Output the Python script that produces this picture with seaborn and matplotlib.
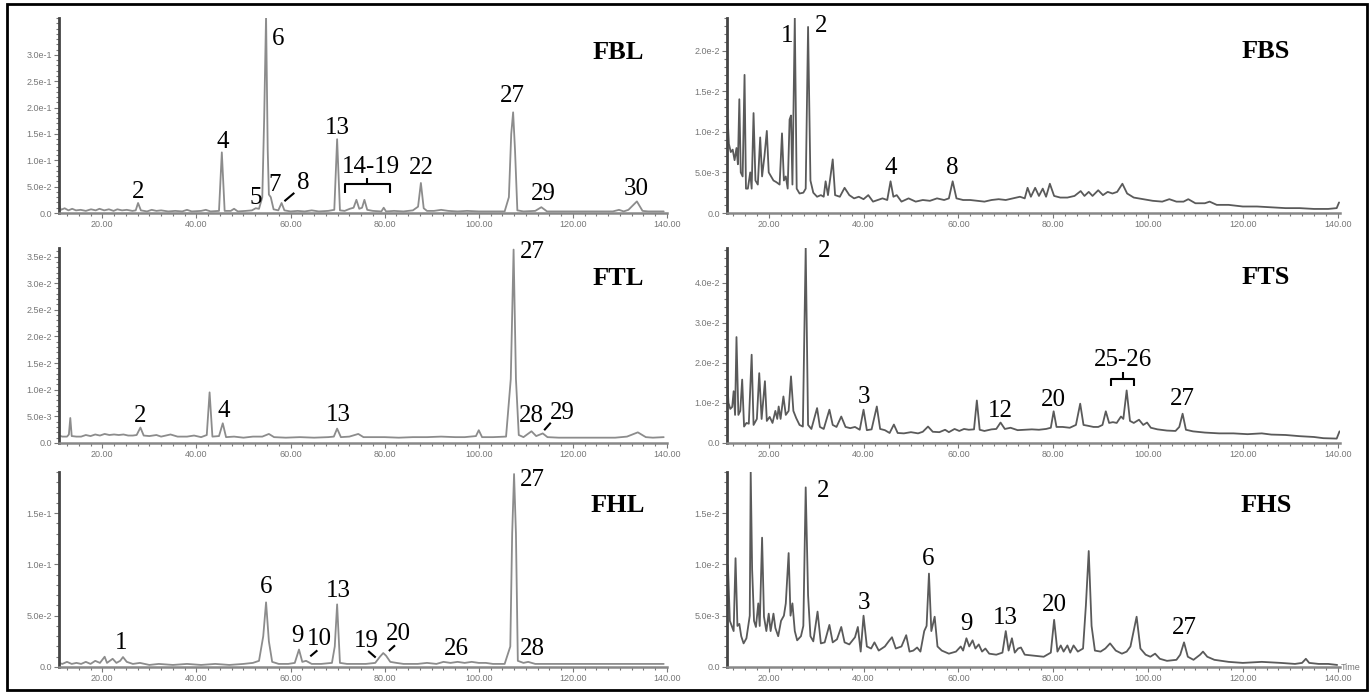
"""
GC-MS total ion chromatograms of six fractions (leaf / stem)
"""

import matplotlib
matplotlib.use("Agg")
import matplotlib.pyplot as plt
from matplotlib.patches import Rectangle
from matplotlib.ticker import FixedLocator, MultipleLocator, AutoMinorLocator, FuncFormatter
import pandas as pd
import seaborn as sns

# ---- traces: (retention time, abundance) ----
fbl = [(10.8, .016), (11.2, .006), (12.0, .009), (12.8, .005), (13.6, .008), (14.4, .005), (15.4, .006),
       (16.5, .004), (17.6, .007), (18.6, .005), (19.4, .008), (20.4, .005), (21.4, .007), (22.4, .004),
       (23.2, .007), (24.2, .005), (25.2, .006), (26.4, .004), (27.1, .005), (27.6, .019), (28.2, .005),
       (29.5, .003), (30.5, .006), (31.5, .004), (32.5, .005), (34, .003), (35.5, .004), (37, .003),
       (38, .006), (39, .003), (41, .004), (42, .006), (43, .003), (44.8, .004), (45.4, .115), (46.0, .004),
       (47.3, .004), (48.0, .008), (48.8, .003), (50.5, .004), (51.8, .005), (52.6, .009), (53.3, .008),
       (54.0, .03), (54.4, .18), (54.8, .375), (55.15, .12), (55.4, .035), (55.8, .03), (56.4, .007),
       (57.4, .005), (58.1, .019), (58.7, .005), (60, .003), (61.5, .004), (63, .003), (64.5, .005),
       (66, .003), (68, .004), (69.3, .006), (69.9, .14), (70.5, .005), (71.5, .004), (72.6, .008),
       (73.4, .01), (74.0, .025), (74.6, .008), (75.2, .01), (75.7, .025), (76.3, .006), (77.5, .004),
       (79.3, .003), (79.8, .01), (80.3, .003), (82, .004), (84, .003), (86, .005), (87.1, .012),
       (87.7, .057), (88.3, .009), (89, .004), (90.5, .004), (92, .006), (93.5, .004), (95.5, .003),
       (97.5, .004), (100, .003), (103, .003), (105.5, .003), (106.4, .03), (106.9, .15), (107.3, .191),
       (107.7, .12), (108.2, .005), (109.5, .003), (112, .004), (113.3, .011), (114.5, .003), (117, .003),
       (121, .003), (125, .003), (128.5, .003), (129.8, .006), (130.8, .003), (131.8, .006), (133.6, .022),
       (134.8, .004), (136, .003), (139.3, .003)]

ftl = [(10.8, .0014), (11.5, .0012), (12.5, .0012), (12.9, .0016), (13.2, .0047), (13.5, .0013),
       (14.5, .0012), (15.5, .0012), (16.5, .0015), (17.5, .0013), (18.5, .0016), (19.5, .0014),
       (20.5, .0017), (21.5, .0015), (22.5, .0016), (23.5, .0015), (24.5, .0016), (25.5, .0014),
       (26.5, .0014), (27.3, .0015), (28.1, .0029), (28.8, .0014), (30, .0013), (31.5, .0015),
       (32.5, .0012), (34.5, .0016), (36, .0012), (38, .0012), (39.5, .0014), (41, .0011), (42.2, .0015),
       (42.8, .0095), (43.4, .0012), (44.8, .0013), (45.6, .0037), (46.3, .0011), (48, .0012), (50, .0010),
       (52, .0012), (54, .0012), (55.4, .0017), (56.5, .0011), (59, .0010), (62, .0011), (65, .0010),
       (68, .0011), (69.2, .0012), (69.9, .0027), (70.7, .0011), (72.5, .0012), (74.4, .0017),
       (75.5, .0011), (78, .0011), (80, .0011), (83, .0010), (86, .0011), (89, .0011), (92, .0012),
       (95, .0011), (97, .0011), (99.4, .0013), (100.0, .0024), (100.7, .0011), (103, .0011),
       (105.8, .0012), (106.8, .012), (107.4, .0363), (107.9, .012), (108.5, .0015), (109.5, .0011),
       (111.2, .0022), (112.2, .0013), (113.6, .0018), (114.6, .0011), (117, .0010), (121, .0010),
       (125, .0010), (129, .0010), (131.5, .0012), (133.8, .002), (135.5, .0011), (137, .0010),
       (139.3, .0011)]

fhl = [(10.8, .004), (11.5, .003), (12.5, .005), (13.5, .003), (14.5, .004), (15.5, .003), (16.5, .005),
       (17.5, .003), (18.5, .006), (19.5, .004), (20.5, .010), (21.0, .004), (22.2, .008), (23.0, .004),
       (23.8, .006), (24.4, .0097), (25.2, .005), (26.5, .003), (28, .004), (30, .002), (32, .003),
       (35, .002), (38, .003), (41, .002), (44, .003), (47, .002), (50, .003), (52, .004), (53.3, .006),
       (54.2, .03), (54.8, .063), (55.4, .025), (56.1, .005), (57.5, .003), (59.5, .003), (60.9, .004),
       (61.8, .017), (62.5, .005), (63.3, .006), (64.5, .003), (66.5, .003), (68.8, .004), (69.4, .02),
       (69.9, .061), (70.5, .004), (72, .003), (74, .003), (76, .003), (78, .004), (79.0, .010),
       (79.7, .0136), (80.3, .011), (81.2, .005), (82.5, .004), (84, .003), (87, .003), (89, .004),
       (91, .003), (92.5, .005), (94, .004), (95.5, .005), (97, .004), (98.5, .005), (100, .004),
       (101.5, .004), (103, .003), (105.5, .003), (106.7, .02), (107.1, .13), (107.5, .188), (107.9, .13),
       (108.3, .006), (109.5, .004), (110.5, .005), (112, .003), (116, .003), (122, .003), (130, .003),
       (139.3, .003)]

fbs = [(11.35, .0114), (11.6, .0085), (12.0, .0075), (12.4, .0078), (12.8, .0065), (13.2, .0080),
       (13.5, .0060), (13.8, .0140), (14.1, .0050), (14.5, .0045), (14.9, .0170), (15.2, .0030),
       (15.6, .0030), (16.1, .0050), (16.4, .0030), (16.8, .0123), (17.2, .0040), (17.7, .0035),
       (18.2, .0093), (18.6, .0045), (19.1, .0070), (19.6, .0101), (20.0, .0050), (20.5, .0045),
       (21.0, .0040), (21.6, .0038), (22.3, .0035), (22.8, .0098), (23.2, .0040), (23.6, .0045),
       (24.0, .0030), (24.4, .0115), (24.7, .0120), (25.0, .0035), (25.5, .0240), (25.9, .0030),
       (26.5, .0024), (27.3, .0025), (27.8, .0030), (28.3, .0229), (28.8, .0040), (29.4, .0025),
       (30.2, .0020), (31.0, .0022), (31.6, .0020), (32.0, .0039), (32.5, .0022), (33.5, .0066),
       (34.0, .0022), (35.0, .0020), (36.0, .0031), (37.0, .0022), (38.0, .0018), (39.0, .0020),
       (40.0, .0017), (41.0, .0022), (42.0, .0014), (43.0, .0016), (44.0, .0018), (45.0, .0016),
       (45.7, .0039), (46.3, .0020), (47.0, .0022), (48.0, .0014), (49.5, .0018), (51, .0014),
       (52.5, .0016), (54, .0015), (55.5, .0018), (57, .0016), (58.0, .0018), (58.8, .0039), (59.6, .0018),
       (61, .0016), (62.5, .0016), (64, .0015), (65.5, .0014), (67, .0016), (68.5, .0017), (70, .0016),
       (71.5, .0018), (73, .0020), (74.0, .0018), (74.6, .0031), (75.3, .0020), (76.2, .0031), (77, .0021),
       (77.8, .0030), (78.5, .0020), (79.3, .0036), (80.2, .0021), (81.5, .0019), (83, .0019),
       (84.5, .0021), (85.8, .0027), (86.6, .0021), (87.5, .0026), (88.3, .0021), (89.5, .0028),
       (90.5, .0022), (91.5, .0026), (92.5, .0024), (93.5, .0026), (94.6, .0036), (95.6, .0024),
       (97, .0019), (99, .0017), (101, .0015), (103, .0014), (104.5, .0017), (106, .0014), (107.5, .0014),
       (108.5, .0017), (110, .0012), (112.0, .0012), (113, .0014), (114.5, .0010), (117, .0010),
       (120, .0008), (123, .0008), (126, .0007), (129, .0006), (132, .0006), (135, .0005), (138, .0005),
       (139.8, .0006), (140.3, .0013)]

fts = [(11.2, .0174), (11.5, .0100), (11.9, .0085), (12.3, .0090), (12.6, .0129), (12.9, .0070),
       (13.2, .0264), (13.6, .0070), (14.0, .0080), (14.4, .0158), (14.8, .0041), (15.3, .0050),
       (15.8, .0048), (16.4, .0220), (16.8, .0045), (17.5, .0060), (18.0, .0174), (18.5, .0060),
       (19.2, .0154), (19.6, .0055), (20.2, .0065), (20.8, .0050), (21.4, .0080), (21.8, .0060),
       (22.1, .0091), (22.5, .0060), (23.1, .0116), (23.6, .0070), (24.2, .0080), (24.7, .0166),
       (25.2, .0080), (25.8, .0062), (26.5, .0045), (27.2, .0041), (27.8, .0486), (28.3, .0045),
       (29.0, .0035), (30.2, .0087), (30.8, .0040), (31.6, .0035), (32.8, .0083), (33.5, .0045),
       (34.3, .0040), (35.3, .0066), (36.2, .0040), (37.2, .0037), (38.2, .0040), (39.2, .0033),
       (40.0, .0083), (40.7, .0032), (41.7, .0034), (42.8, .0091), (43.5, .0035), (44.5, .0032),
       (45.5, .0025), (46.4, .0046), (47.2, .0025), (48.5, .0024), (50.0, .0027), (51.5, .0024),
       (52.5, .0028), (53.6, .0041), (54.6, .0028), (56, .0027), (57.2, .0033), (58, .0027), (59.2, .0035),
       (60.2, .0030), (61.2, .0035), (62.2, .0033), (63.3, .0034), (63.9, .0106), (64.5, .0033),
       (65.5, .0030), (67, .0034), (68.0, .0035), (68.9, .0051), (69.8, .0035), (71, .0038), (72.5, .0032),
       (74, .0033), (75.5, .0034), (77, .0033), (78.5, .0035), (79.5, .0038), (80.1, .0079), (80.7, .0040),
       (82, .0040), (83.5, .0038), (84.8, .0045), (85.7, .0098), (86.4, .0045), (87.3, .0043),
       (88.5, .0040), (89.5, .0040), (90.4, .0045), (91.1, .0079), (91.8, .0050), (92.6, .0052),
       (93.4, .0050), (94.3, .0066), (94.8, .0060), (95.5, .0131), (96.2, .0055), (97.0, .0050),
       (98.1, .0058), (99.0, .0045), (99.8, .0051), (100.6, .0038), (102, .0034), (104, .0031),
       (105.8, .0030), (106.6, .0040), (107.3, .0073), (108.0, .0033), (109.5, .0029), (112, .0026),
       (115, .0024), (118, .0024), (121, .0022), (124, .0024), (126, .0021), (129, .0020), (132, .0017),
       (135, .0015), (137, .0012), (139.8, .0011), (140.4, .0029)]

fhs = [(11.2, .0042), (11.4, .0099), (11.8, .0045), (12.2, .0040), (12.6, .0035), (13.0, .0106),
       (13.4, .0040), (13.8, .0042), (14.2, .0030), (14.7, .0023), (15.3, .0028), (16.0, .0050),
       (16.2, .0190), (16.5, .0095), (16.9, .0045), (17.3, .0039), (17.8, .0062), (18.1, .0040),
       (18.6, .0126), (19.0, .0049), (19.5, .0035), (20.0, .0052), (20.4, .0035), (21.0, .0052),
       (21.4, .0038), (22.0, .0030), (22.6, .0045), (23.2, .0050), (23.6, .0062), (24.2, .0111),
       (24.6, .0050), (25.0, .0062), (25.5, .0035), (26.0, .0026), (26.8, .0030), (27.3, .0040),
       (27.8, .0175), (28.3, .0070), (28.8, .0030), (29.4, .0025), (30.3, .0054), (31.0, .0023),
       (31.8, .0024), (32.8, .0041), (33.5, .0024), (34.4, .0027), (35.3, .0039), (36.0, .0024),
       (37.0, .0022), (38.2, .0029), (38.8, .0039), (39.4, .0015), (40.0, .0050), (40.7, .0020),
       (41.6, .0018), (42.3, .0024), (43.2, .0016), (44.5, .0020), (45.3, .0025), (46.0, .0029),
       (46.8, .0018), (48.0, .0020), (49.0, .0031), (49.7, .0015), (50.5, .0016), (51.3, .0019),
       (52.0, .0015), (52.8, .0035), (53.3, .0040), (53.8, .0091), (54.3, .0035), (55.0, .0049),
       (55.6, .0020), (56.5, .0016), (58, .0013), (59.5, .0015), (60.5, .0020), (61.0, .0016),
       (61.7, .0028), (62.3, .0020), (63.0, .0026), (63.6, .0018), (64.3, .0022), (65.0, .0015),
       (65.7, .0018), (66.5, .0013), (68, .0012), (69.3, .0014), (70.0, .0035), (70.6, .0016),
       (71.3, .0028), (71.9, .0014), (72.6, .0018), (73.2, .0019), (74, .0012), (76, .0011), (78, .0010),
       (79.5, .0014), (80.2, .0046), (80.9, .0015), (81.6, .0021), (82.2, .0015), (83.0, .0021),
       (83.6, .0014), (84.3, .0021), (85.2, .0015), (86.3, .0018), (86.9, .0060), (87.5, .0113),
       (88.1, .0040), (88.8, .0016), (90.0, .0015), (91.0, .0018), (92.0, .0023), (93.2, .0016),
       (94.5, .0013), (95.5, .0015), (96.3, .0020), (97.6, .0049), (98.4, .0018), (99.5, .0012),
       (100.5, .0010), (101.5, .0013), (102.5, .0008), (104, .0006), (106, .0007), (106.8, .0012),
       (107.6, .0024), (108.4, .0010), (109.6, .0007), (111.0, .0012), (111.6, .0015), (112.5, .0010),
       (114, .0007), (117, .0005), (120, .0004), (124, .0005), (128, .0004), (131, .0003), (132.5, .0004),
       (133.3, .0008), (134.0, .0004), (136, .0003), (138, .0003), (139.9, .0002)]

# ---- axis ranges / ticks ----
x_ticks = [20, 40, 60, 80, 100, 120, 140]
fbl_yticks = [0, .05, .10, .15, .20, .25, .30]
ftl_yticks = [0, .005, .010, .015, .020, .025, .030, .035]
fhl_yticks = [0, .05, .10, .15]
fbs_yticks = [0, .005, .010, .015, .020]
fts_yticks = [0, .01, .02, .03, .04]
fhs_yticks = [0, .005, .010, .015]

# ---- peak labels: (text, time, abundance, ha) ----
fbl_labels = [("2", 27.7, .0287), ("4", 45.7, .124), ("5", 52.6, .0172), ("6", 57.3, .318),
              ("7", 56.7, .0414), ("8", 62.6, .0447), ("13", 69.9, .150), ("14-19", 77.0, .0764),
              ("22", 87.9, .0733), ("27", 107.1, .210), ("29", 113.7, .0256), ("30", 133.5, .0351)]
ftl_labels = [("2", 28.1, .00397), ("4", 45.9, .00492), ("13", 70.1, .0041), ("27", 108.7, .0347, "left"),
              ("28", 111.2, .00397), ("29", 117.8, .00454)]
fhl_labels = [("1", 24.1, .0179), ("6", 54.9, .072), ("9", 61.4, .0244), ("10", 66.2, .0211),
              ("13", 70.2, .068), ("19", 76.1, .0195), ("20", 82.9, .026), ("26", 95.2, .0114),
              ("27", 108.7, .176, "left"), ("28", 108.7, .0114, "left")]
fbs_labels = [("1", 23.8, .0210), ("2", 31.1, .0223), ("4", 45.7, .00484), ("8", 58.8, .00484)]
fts_labels = [("2", 31.7, .0463), ("3", 40.0, .00996), ("12", 68.8, .00638), ("20", 80.1, .0093),
              ("25-26", 94.8, .0192), ("27", 107.3, .00954)]
fhs_labels = [("2", 31.5, .0166), ("3", 40.0, .00569), ("6", 53.6, .0099), ("9", 61.8, .00357),
              ("13", 70.0, .00422), ("20", 80.2, .0055), ("27", 107.6, .00318)]

# brackets and leader lines (data units)
fbl_marks = [[(71.5, .0382), (71.5, .0554), (81.1, .0554), (81.1, .0382)], [(76.3, .0554), (76.3, .0669)],
             [(58.7, .0224), (60.8, .0382)]]
ftl_marks = [[(113.9, .0024), (115.3, .0038)]]
fhl_marks = [[(64.2, .0104), (65.7, .0162)], [(76.5, .0156), (78.1, .0092)], [(80.9, .0156), (82.2, .0211)]]
fts_marks = [[(92.2, .0141), (92.2, .016), (97.1, .016), (97.1, .0141)], [(94.7, .016), (94.7, .0176)]]

W, H = 1370, 692
left_col = (59, 667, (10.8, 140.0), '#8c8c8c')
right_col = (727, 1340, (11.2, 140.5), '#5a5a5a')

panels = [
    ("FBL", fbl, left_col, 213, (0, .37), fbl_yticks, fbl_labels, fbl_marks, (129.6, .293)),
    ("FTL", ftl, left_col, 443, (0, .0366), ftl_yticks, ftl_labels, ftl_marks, (129.6, .0296)),
    ("FHL", fhl, left_col, 667, (0, .19), fhl_yticks, fhl_labels, fhl_marks, (129.6, .151)),
    ("FBS", fbs, right_col, 213, (0, .024), fbs_yticks, fbs_labels, [], (124.9, .0191)),
    ("FTS", fts, right_col, 443, (0, .0486), fts_yticks, fts_labels, fts_marks, (124.9, .0397)),
    ("FHS", fhs, right_col, 667, (0, .019), fhs_yticks, fhs_labels, [], (124.9, .0151)),
]


def sci(v, _pos=None):
    if v == 0:
        return "0.0"
    m, e = f"{v:.1e}".split("e")
    return f"{m}e{int(e)}"


sns.set_style("ticks")
plt.rcParams['font.family'] = ['Liberation Sans', 'DejaVu Sans']

fig = plt.figure(figsize=(W / 100, H / 100), dpi=100)
serif = ['Liberation Serif', 'DejaVu Serif']

for name, trace, col, y_bot, ylim, yticks, labels, marks, title_xy in panels:
    x0, x1, xlim, color = col
    ax = fig.add_axes([x0 / W, 1 - y_bot / H, (x1 - x0) / W, 195 / H])
    df = pd.DataFrame(trace, columns=["time", "abund"])
    sns.lineplot(data=df, x="time", y="abund", ax=ax, color=color, lw=1.3, sort=False)

    ax.set_xlim(*xlim)
    ax.set_ylim(*ylim)
    ax.set_xlabel("")
    ax.set_ylabel("")
    ax.xaxis.set_major_locator(FixedLocator(x_ticks))
    ax.xaxis.set_major_formatter(FuncFormatter(lambda v, p: f"{v:.2f}"))
    ax.xaxis.set_minor_locator(MultipleLocator(2.5))
    ax.yaxis.set_major_locator(FixedLocator(yticks))
    ax.yaxis.set_major_formatter(FuncFormatter(sci))
    ax.yaxis.set_minor_locator(AutoMinorLocator(5))
    ax.tick_params(which="both", direction="out", colors="#777777", labelsize=6.5, width=0.8, pad=1.5)
    ax.tick_params(which="major", length=3.5)
    ax.tick_params(which="minor", length=2)
    ax.patch.set_alpha(0)
    sns.despine(ax=ax)
    ax.spines["left"].set_color("#444444")
    ax.spines["left"].set_linewidth(2)
    ax.spines["bottom"].set_color("#888888")
    ax.spines["bottom"].set_linewidth(1.8)

    for lab in labels:
        ha = lab[3] if len(lab) > 3 else "center"
        ax.text(lab[1], lab[2], lab[0], ha=ha, va="baseline", fontsize=18, family=serif, color="black")
    for seg in marks:
        xs, ys = zip(*seg)
        ax.plot(xs, ys, color="black", lw=1.5, solid_capstyle="butt")
    ax.text(title_xy[0], title_xy[1], name, ha="center", va="baseline", fontsize=19,
            fontweight="bold", family=serif, color="black")
    if name == "FHS":
        ax.text(140.7, 0, "Time", ha="left", va="center", fontsize=6.5, color="#777777")

fig.add_artist(Rectangle((7 / W, 2 / H), 1360 / W, 686 / H, transform=fig.transFigure,
                         fill=False, lw=2, ec="black"))

fig.savefig("out.png", dpi=100)
